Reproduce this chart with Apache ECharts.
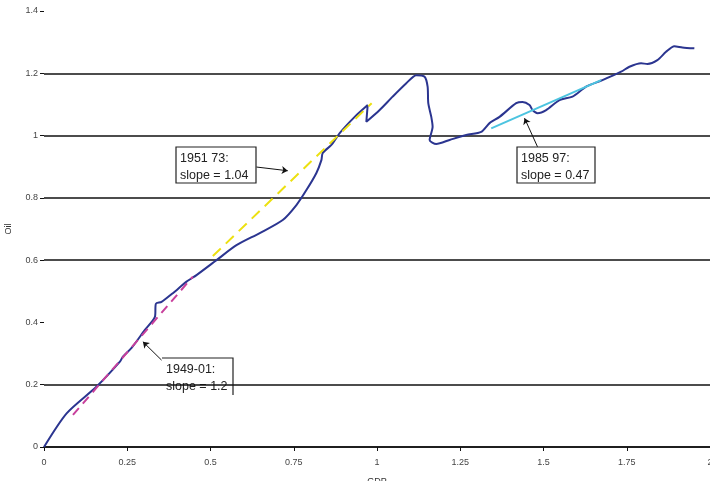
<!DOCTYPE html>
<html><head><meta charset="utf-8">
<script src="https://cdn.jsdelivr.net/npm/echarts@6/dist/echarts.min.js"></script>
<style>html,body{margin:0;padding:0;background:#fff}#c{width:710px;height:481px}</style>
</head><body><div id="c"></div>
<script>
// Oil vs GDP path (x = GDP, y = Oil)
const gdp = [0,0.068,0.158,0.228,0.237,0.263,0.303,0.333,0.336,0.353,0.387,0.428,0.458,0.518,0.578,0.648,0.717,0.758,0.788,0.818,0.833,0.837,0.863,0.888,0.933,0.972,0.968,1.008,1.047,1.088,1.118,1.143,1.152,1.154,1.163,1.167,1.158,1.178,1.218,1.268,1.313,1.338,1.368,1.418,1.437,1.458,1.467,1.482,1.508,1.548,1.587,1.628,1.677,1.733,1.758,1.793,1.812,1.842,1.868,1.893,1.917,1.953];
const oil = [0,0.108,0.194,0.274,0.290,0.318,0.376,0.418,0.460,0.466,0.494,0.531,0.552,0.600,0.648,0.687,0.729,0.777,0.825,0.880,0.921,0.944,0.970,1.008,1.060,1.098,1.044,1.082,1.125,1.168,1.194,1.189,1.157,1.104,1.060,1.028,0.986,0.973,0.986,1.002,1.012,1.040,1.060,1.104,1.108,1.098,1.082,1.072,1.082,1.114,1.125,1.157,1.178,1.205,1.221,1.232,1.230,1.242,1.269,1.287,1.283,1.280];
// fitted trend segments [x, y]
const fit1949 = [[0.087,0.103],[0.447,0.547]];
const fit1951 = [[0.507,0.613],[0.984,1.104]];
const fit1985 = [[1.343,1.023],[1.673,1.178]];
// annotation arrows [from, to]
const arrow1951 = [[0.638,0.899],[0.732,0.887]];
const arrow1949 = [[0.353,0.279],[0.297,0.338]];
const arrow1985 = [[1.482,0.964],[1.443,1.056]];
const xTicks = [0,0.25,0.5,0.75,1,1.25,1.5,1.75,2];
const yTicks = [0,0.2,0.4,0.6,0.8,1,1.2,1.4];

const chart = echarts.init(document.getElementById('c'), null, {renderer:'canvas'});
const font = 'Liberation Sans, Arial, sans-serif';
function arrowSeries(a){
  return {type:'line', data:[], silent:true,
    markLine:{silent:true, symbol:['none','arrow'], symbolSize:6, animation:false,
      label:{show:false}, lineStyle:{color:'#111', width:1, type:'solid'},
      data:[[{coord:a[0]},{coord:a[1]}]]}};
}
function box(x,y,w,h,lines,partial){
  const children = [{type:'rect', shape:{x:0,y:0,width:w,height:h},
      style:{fill:'#fff', stroke: partial?null:'#222', lineWidth:1.2}}];
  if(partial){
    children.push({type:'polyline', shape:{points:[[0,0],[w,0],[w,h]]}, style:{stroke:'#222', lineWidth:1.2, fill:null}});
  }
  children.push({type:'text', x:4, y:3, style:{text:lines.join('\n'), font:'12.5px '+font, fill:'#222', lineHeight:17}});
  return {type:'group', x:x, y:y, z:100, children:children};
}
chart.setOption({
  animation:false,
  grid:{left:44, right:0, top:11, bottom:34, containLabel:false, outerBoundsMode:'none'},
  xAxis:{type:'value', min:0, max:2, interval:0.25, name:'GDP', nameLocation:'middle', nameGap:30,
    nameTextStyle:{color:'#333', fontSize:9, fontFamily:font},
    axisLine:{show:true, onZero:false, lineStyle:{color:'#111', width:1.5}},
    axisTick:{show:true, length:4, lineStyle:{color:'#111'}},
    axisLabel:{color:'#444', fontSize:9, fontFamily:font, margin:11,
      formatter:v=>String(v)},
    splitLine:{show:false}},
  yAxis:{type:'value', min:0, max:1.4, interval:0.2, name:'Oil', nameLocation:'middle', nameGap:31,
    nameTextStyle:{color:'#333', fontSize:9, fontFamily:font},
    axisLine:{show:false},
    axisTick:{show:true, length:4, lineStyle:{color:'#111'}},
    axisLabel:{color:'#444', fontSize:9, fontFamily:font, margin:6},
    splitLine:{show:true, lineStyle:{width:1.5, color:['#111','#111','rgba(0,0,0,0)','#111','#111','#111','#111','rgba(0,0,0,0)']}}},
  series:[
    {type:'line', data:gdp.map((g,i)=>[g,oil[i]]), showSymbol:false, smooth:0.25, z:3,
      lineStyle:{color:'#2b3590', width:2}},
    {type:'line', data:fit1949, showSymbol:false, z:4, lineStyle:{color:'#c8409c', width:2, type:[9,6]}},
    {type:'line', data:fit1951, showSymbol:false, z:4, lineStyle:{color:'#ece010', width:2, type:[11,7]}},
    {type:'line', data:fit1985, showSymbol:false, z:4, lineStyle:{color:'#4cc4e0', width:2}},
    arrowSeries(arrow1951), arrowSeries(arrow1949), arrowSeries(arrow1985)
  ],
  graphic:[
    box(176,147,80,36,['1951 73:','slope = 1.04'],false),
    box(517,147,78,36,['1985 97:','slope = 0.47'],false),
    box(162,358,71,37,['1949-01:','slope = 1.2'],true)
  ]
});
</script></body></html>
